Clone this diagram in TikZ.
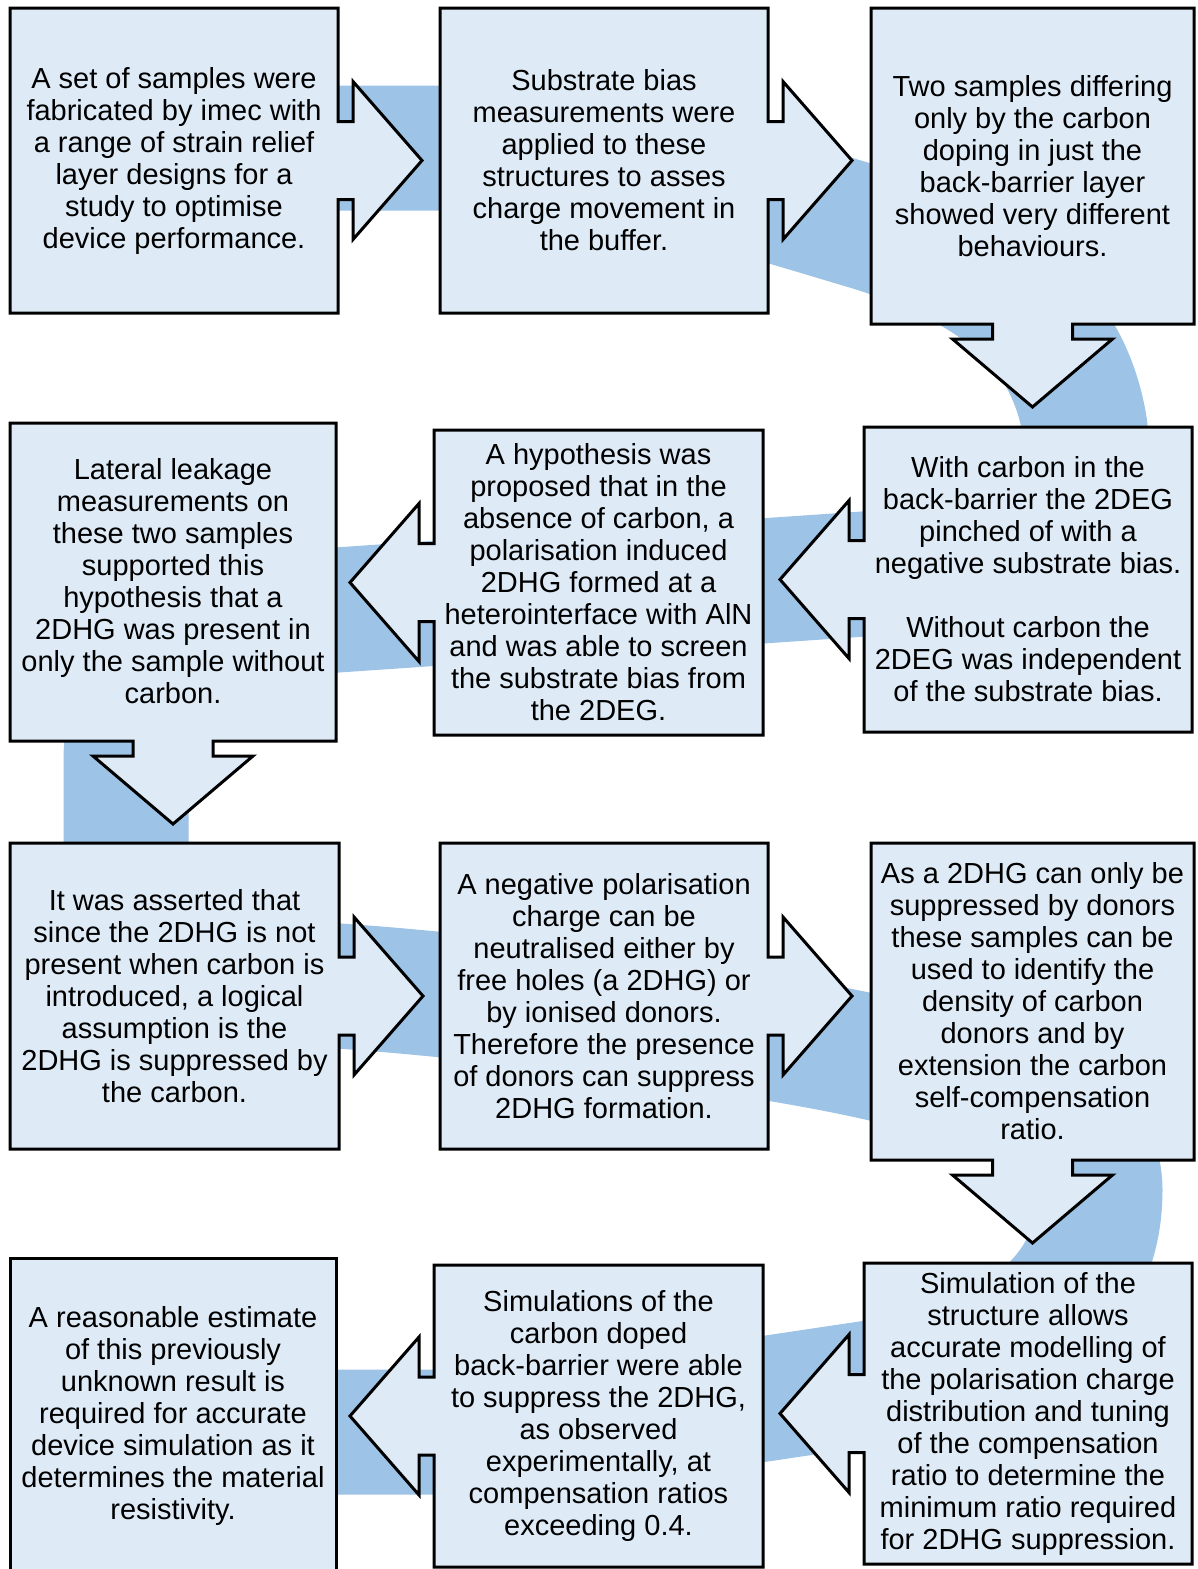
\documentclass[tikz,border=0pt]{standalone}
\usepackage{fontspec}
\setmainfont{Liberation Sans}
\definecolor{boxfill}{HTML}{DEEBF7}
\definecolor{ribboncol}{HTML}{9DC3E6}
\tikzset{
  shapebox/.style={draw=black, fill=boxfill, line width=3pt, line join=miter},
  txt/.style={align=center, font=\fontsize{29}{32}\selectfont, inner sep=0pt, text=black},
  ribbonband/.style={draw=ribboncol, line width=125pt, line cap=butt, line join=round}
}
% right-pointing callout: left top right bottom
\newcommand\calloutRight[4]{%
  \pgfmathsetmacro\mycy{(#2+#4)/2}%
  \draw[shapebox] (#1,#2) -- (#3,#2) -- (#3,\mycy-39) -- (#3+15,\mycy-39) -- (#3+15,\mycy-79)
    -- (#3+84,\mycy) -- (#3+15,\mycy+79) -- (#3+15,\mycy+39) -- (#3,\mycy+39) -- (#3,#4) -- (#1,#4) -- cycle;}
\newcommand\calloutLeft[4]{%
  \pgfmathsetmacro\mycy{(#2+#4)/2}%
  \draw[shapebox] (#1,#2) -- (#3,#2) -- (#3,#4) -- (#1,#4) -- (#1,\mycy+39) -- (#1-15,\mycy+39)
    -- (#1-15,\mycy+79) -- (#1-84,\mycy) -- (#1-15,\mycy-79) -- (#1-15,\mycy-39) -- (#1,\mycy-39) -- cycle;}
\newcommand\calloutDown[4]{%
  \pgfmathsetmacro\mycx{(#1+#3)/2}%
  \draw[shapebox] (#1,#2) -- (#3,#2) -- (#3,#4) -- (\mycx+40,#4) -- (\mycx+40,#4+15) -- (\mycx+80,#4+15)
    -- (\mycx,#4+83) -- (\mycx-80,#4+15) -- (\mycx-40,#4+15) -- (\mycx-40,#4) -- (#1,#4) -- cycle;}
\newcommand\plainBox[4]{%
  \draw[shapebox] (#1,#2) rectangle (#3,#4);}
\begin{document}
\begin{tikzpicture}[x=1pt, y=-1pt]
\useasboundingbox (0,0) rectangle (1197,1569);
\fill[white] (0,0) rectangle (1197,1569);

% ribbon connecting the steps
\coordinate (r0) at (174,148);
\coordinate (r13) at (174,1432);
\draw[ribbonband] (r0) -- (440,148) .. controls (620,148) and (760,196) .. (872,229)
  .. controls (986,265) and (1068,320) .. (1085,428)
  .. controls (1096,520) and (964,567) .. (864,574)
  -- (337,610) .. controls (217,618) and (126,660) .. (126,760)
  -- (126,850) .. controls (126,940) and (209,977) .. (339,986)
  .. controls (500,997) and (750,1030) .. (872,1057)
  .. controls (1022,1090) and (1100,1120) .. (1100,1190)
  .. controls (1100,1300) and (1014,1362) .. (864,1384)
  .. controls (714,1406) and (560,1432) .. (434,1432) -- (r13);

% boxes
\calloutRight{10}{8}{338}{313}
\calloutRight{440}{8}{768}{313}
\calloutDown{871}{8}{1194}{324}
\calloutDown{10}{423}{336}{741}
\calloutLeft{434}{430}{763}{735}
\calloutLeft{864}{427}{1192}{732}
\calloutRight{10}{843}{339}{1149}
\calloutRight{440}{843}{768}{1149}
\calloutDown{871}{843}{1194}{1160}
\plainBox{10}{1258}{336}{1574}
\calloutLeft{434}{1265}{763}{1567}
\calloutLeft{864}{1263}{1192}{1564}

% texts
\node[txt] (tA1) at (174,160.5) {A set of samples were\\fabricated by imec with\\a range of strain relief\\layer designs for a\\study to optimise\\device performance.};
\node[txt] (tA2) at (604,160.5) {Substrate bias\\measurements were\\applied to these\\structures to asses\\charge movement in\\the buffer.};
\node[txt] (tA3) at (1032.5,166) {Two samples differing\\only by the carbon\\doping in just the\\back-barrier layer\\showed very different\\behaviours.};
\node[txt] (tB1) at (173,581) {Lateral leakage\\measurements on\\these two samples\\supported this\\hypothesis that a\\2DHG was present in\\only the sample without\\carbon.};
\node[txt] (tB2) at (598.5,582.5) {A hypothesis was\\proposed that in the\\absence of carbon, a\\polarisation induced\\2DHG formed at a\\heterointerface with AlN\\and was able to screen\\the substrate bias from\\the 2DEG.};
\node[txt] (tB3) at (1028,579.5) {With carbon in the\\back-barrier the 2DEG\\pinched of with a\\negative substrate bias.\\[32pt]Without carbon the\\2DEG was independent\\of the substrate bias.};
\node[txt] (tC1) at (174.5,996) {It was asserted that\\since the 2DHG is not\\present when carbon is\\introduced, a logical\\assumption is the\\2DHG is suppressed by\\the carbon.};
\node[txt] (tC2) at (604,996) {A negative polarisation\\charge can be\\neutralised either by\\free holes (a 2DHG) or\\by ionised donors.\\Therefore the presence\\of donors can suppress\\2DHG formation.};
\node[txt] (tC3) at (1032.5,1001.5) {As a 2DHG can only be\\suppressed by donors\\these samples can be\\used to identify the\\density of carbon\\donors and by\\extension the carbon\\self-compensation\\ratio.};
\node[txt] (tD1) at (173,1416) {A reasonable estimate\\of this previously\\unknown result is\\required for accurate\\device simulation as it\\determines the material\\resistivity.};
\node[txt] (tD2) at (598.5,1416) {Simulations of the\\carbon doped\\back-barrier were able\\to suppress the 2DHG,\\as observed\\experimentally, at\\compensation ratios\\exceeding 0.4.};
\node[txt] (tD3) at (1028,1413.5) {Simulation of the\\structure allows\\accurate modelling of\\the polarisation charge\\distribution and tuning\\of the compensation\\ratio to determine the\\minimum ratio required\\for 2DHG suppression.};
\end{tikzpicture}
\end{document}
